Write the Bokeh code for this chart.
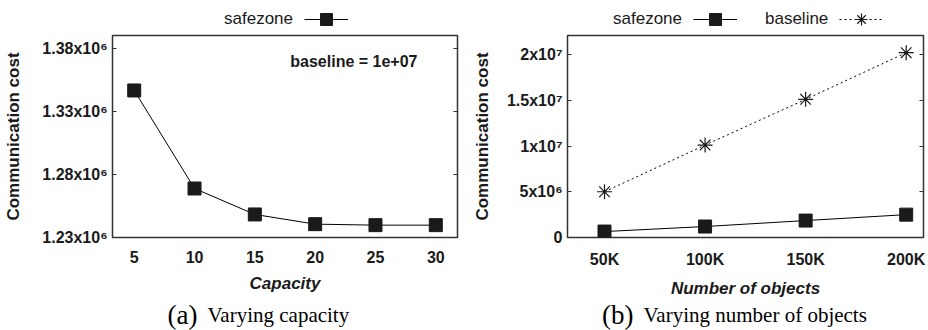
from bokeh.plotting import figure
from bokeh.models import (Range1d, Label, Legend, LegendItem, FixedTicker,
                          LinearAxis)
from bokeh.layouts import row, column
from bokeh.embed import file_html
from bokeh.resources import INLINE

# ---------------- data ----------------
capacity = [5, 10, 15, 20, 25, 30]
safezone_a = [1.3467e6, 1.2689e6, 1.2483e6, 1.2406e6, 1.2398e6, 1.2398e6]
ticks_a_y = [1.23e6, 1.28e6, 1.33e6, 1.38e6]
ticks_a_labels = ["1.23x10\u2076", "1.28x10\u2076", "1.33x10\u2076", "1.38x10\u2076"]

objects_k = [50, 100, 150, 200]
objects_labels = ["50K", "100K", "150K", "200K"]
safezone_b = [6.5e5, 1.2e6, 1.85e6, 2.5e6]
baseline_b = [5.0e6, 1.01e7, 1.51e7, 2.02e7]
ticks_b_y = [0, 5e6, 1e7, 1.5e7, 2e7]
ticks_b_labels = ["0", "5x10\u2076", "1x10\u2077", "1.5x10\u2077", "2x10\u2077"]

SANS = "Liberation Sans"
SERIF = "Liberation Serif"
INK = "#1a1a1a"
W = 464
LEG_H, MAIN_H, CAP_H = 34, 266, 30

SAFE_LINE = dict(line_color="black", line_width=1)
SAFE_MARK = dict(marker="square", size=13, fill_color=INK, line_color=INK)
BASE_LINE = dict(line_color="black", line_width=1, line_dash="2 3")
BASE_MARK = dict(marker="asterisk", size=15, line_color=INK, line_width=1.2)


def strip(height, frame_left, frame_right):
    # strip frames are aligned with the plot frame below/above them;
    # x range is expressed in the column's pixel coordinates
    s = figure(width=W, height=height, x_range=Range1d(frame_left, frame_right),
               y_range=Range1d(0, height), output_backend="svg",
               toolbar_location=None, min_border=0,
               x_axis_type=None, y_axis_type=None)
    s.outline_line_color = None
    s.grid.visible = False
    s.background_fill_color = "white"
    s.border_fill_color = "white"
    return s


def base_fig(bl, br, xr, yr):
    p = figure(width=W, height=MAIN_H, x_range=xr, y_range=yr,
               output_backend="svg", toolbar_location=None,
               min_border_left=bl, min_border_right=br,
               min_border_top=1, min_border_bottom=63)
    p.grid.visible = False
    p.outline_line_color = "#333333"
    p.outline_line_width = 1.5
    p.background_fill_color = "white"
    p.border_fill_color = "white"
    p.xaxis.axis_line_color = None
    p.xaxis.major_tick_line_color = None
    p.xaxis.minor_tick_line_color = None
    p.xaxis.major_label_text_font = SANS
    p.xaxis.major_label_text_font_style = "bold"
    p.xaxis.major_label_text_font_size = "16px"
    p.xaxis.major_label_text_color = INK
    p.xaxis.major_label_standoff = 7
    p.xaxis.axis_label_text_font = SANS
    p.xaxis.axis_label_text_font_style = "bold italic"
    p.xaxis.axis_label_text_font_size = "17px"
    p.xaxis.axis_label_text_color = INK
    p.xaxis.axis_label_standoff = 8
    p.yaxis.axis_line_color = None
    p.yaxis.major_tick_in = 4
    p.yaxis.major_tick_out = 0
    p.yaxis.major_tick_line_color = "#333333"
    p.yaxis.minor_tick_line_color = None
    p.yaxis.major_label_text_font = SANS
    p.yaxis.major_label_text_font_style = "bold"
    p.yaxis.major_label_text_font_size = "16px"
    p.yaxis.major_label_text_color = INK
    p.yaxis.major_label_standoff = 5
    p.yaxis.axis_label = "Communication cost"
    p.yaxis.axis_label_text_font = SANS
    p.yaxis.axis_label_text_font_style = "bold"
    p.yaxis.axis_label_text_font_size = "17px"
    p.yaxis.axis_label_text_color = INK
    return p


def add_right_ticks(p, ticks):
    ax = LinearAxis(ticker=FixedTicker(ticks=ticks))
    ax.major_label_overrides = {t: "" for t in ticks}
    ax.axis_line_color = None
    ax.major_tick_in = 4
    ax.major_tick_out = 0
    ax.major_tick_line_color = "#333333"
    ax.minor_tick_line_color = None
    ax.major_label_standoff = 0
    p.add_layout(ax, "right")


def add_legend(s, items, vx):
    lg = Legend(items=items, location=(vx, 0), orientation="horizontal",
                glyph_width=44, glyph_height=30, label_width=38,
                label_standoff=28, label_height=16, spacing=11,
                padding=0, margin=0, border_line_alpha=0,
                background_fill_alpha=0, label_text_font=SANS,
                label_text_font_size="17px", label_text_color=INK)
    s.add_layout(lg)


def add_caption(s, tag, text, x_split):
    s.add_layout(Label(x=x_split, y=16, text=tag, text_align="right",
                       text_baseline="alphabetic", text_font=SERIF,
                       text_font_size="27px", text_color="black"))
    s.add_layout(Label(x=x_split + 10, y=16, text=text, text_align="left",
                       text_baseline="alphabetic", text_font=SERIF,
                       text_font_size="21px", text_color="black"))


# ---------------- (a) ----------------
FL_A, FR_A = 112, 457
xr_a = Range1d(3.2, 31.8)
yr_a = Range1d(1.23e6, 1.39032e6)
pa = base_fig(FL_A, W - FR_A, xr_a, yr_a)
pa.xaxis.ticker = FixedTicker(ticks=capacity)
pa.yaxis.ticker = FixedTicker(ticks=ticks_a_y)
pa.yaxis.major_label_overrides = {t: s for t, s in zip(ticks_a_y, ticks_a_labels)}
pa.yaxis.axis_label_standoff = 16
pa.xaxis.axis_label = "Capacity"
add_right_ticks(pa, ticks_a_y)
pa.line(capacity, safezone_a, **SAFE_LINE)
pa.scatter(capacity, safezone_a, **SAFE_MARK)
pa.add_layout(Label(x=xr_a.end, y=yr_a.end, x_offset=-40, y_offset=-26,
                    text="baseline = 1e+07", text_align="right",
                    text_baseline="middle", text_font=SANS,
                    text_font_style="bold", text_font_size="16px",
                    text_color=INK))

# legend strip: proxy renderers carry the styles (their data lie outside the strip's range)
leg_a = strip(LEG_H, FL_A, FR_A)
blank_a = leg_a.scatter(capacity, safezone_a, alpha=0)
lga = leg_a.line(capacity, safezone_a, **SAFE_LINE)
sga = leg_a.scatter(capacity, safezone_a, **SAFE_MARK)
add_legend(leg_a, [LegendItem(label="safezone", renderers=[blank_a]),
                   LegendItem(label=" ", renderers=[lga, sga])], 40)

cap_a = strip(CAP_H, FL_A, FR_A)
add_caption(cap_a, "(a)", "Varying capacity", 197)

# ---------------- (b) ----------------
FL_B, FR_B = 103, 459
xr_b = Range1d(31.6, 208.6)
yr_b = Range1d(0, 2.2077e7)
pb = base_fig(FL_B, W - FR_B, xr_b, yr_b)
pb.xaxis.ticker = FixedTicker(ticks=objects_k)
pb.xaxis.major_label_overrides = {k: s for k, s in zip(objects_k, objects_labels)}
pb.yaxis.ticker = FixedTicker(ticks=ticks_b_y)
pb.yaxis.major_label_overrides = {t: s for t, s in zip(ticks_b_y, ticks_b_labels)}
pb.yaxis.axis_label_standoff = 12
pb.xaxis.axis_label = "Number of objects"
add_right_ticks(pb, ticks_b_y)
pb.line(objects_k, baseline_b, **BASE_LINE)
pb.scatter(objects_k, baseline_b, **BASE_MARK)
pb.line(objects_k, safezone_b, **SAFE_LINE)
pb.scatter(objects_k, safezone_b, **SAFE_MARK)

leg_b = strip(LEG_H, FL_B, FR_B)
blank_b = leg_b.scatter(objects_k, safezone_b, alpha=0)
lgb0 = leg_b.line(objects_k, safezone_b, **SAFE_LINE)
sgb0 = leg_b.scatter(objects_k, safezone_b, **SAFE_MARK)
lgb1 = leg_b.line(objects_k, baseline_b, **BASE_LINE)
sgb1 = leg_b.scatter(objects_k, baseline_b, **BASE_MARK)
add_legend(leg_b, [LegendItem(label="safezone", renderers=[blank_b]),
                   LegendItem(label="baseline", renderers=[lgb0, sgb0]),
                   LegendItem(label=" ", renderers=[lgb1, sgb1])], -26)

cap_b = strip(CAP_H, FL_B, FR_B)
add_caption(cap_b, "(b)", "Varying number of objects", 169)

layout = row(column(leg_a, pa, cap_a), column(leg_b, pb, cap_b))
open("out.html", "w").write(file_html(layout, INLINE))
